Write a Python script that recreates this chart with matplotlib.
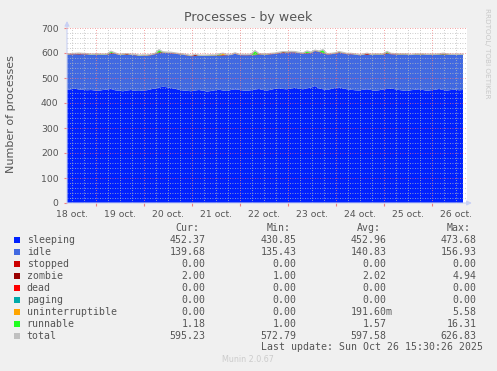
import matplotlib
matplotlib.use('Agg')
import matplotlib.pyplot as plt
import numpy as np
from matplotlib.patches import Rectangle

# data, one point every 2 hours starting 18 oct 09:30 (hours since 18 oct 00:00)
start_hour = 9.5
step_hours = 2.0

sleeping = [452, 455, 457, 454, 453, 451, 452, 450, 449, 452,
            454, 456, 451, 449, 447, 450, 452, 449, 448, 450,
            451, 455, 458, 462, 465, 463, 460, 457, 453, 450,
            449, 447, 450, 452, 449, 446, 448, 451, 453, 450,
            448, 452, 455, 453, 450, 449, 451, 454, 456, 452,
            450, 453, 457, 459, 456, 455, 458, 461, 457, 455,
            459, 462, 468, 458, 455, 452, 456, 460, 463, 458,
            455, 453, 451, 450, 453, 455, 452, 449, 451, 454,
            456, 458, 455, 452, 450, 448, 451, 453, 455, 452,
            449, 451, 453, 456, 452, 450, 452, 454, 451, 452]
idle = [141, 139, 138, 140, 142, 143, 141, 143, 144, 140,
        139, 141, 146, 143, 145, 142, 140, 142, 141, 139,
        138, 136, 137, 138, 136, 137, 139, 140, 142, 143,
        141, 140, 138, 136, 139, 142, 141, 137, 136, 140,
        143, 140, 142, 139, 141, 142, 140, 137, 138, 141,
        143, 142, 139, 140, 144, 146, 145, 141, 143, 142,
        139, 137, 140, 146, 144, 142, 139, 137, 138, 141,
        140, 142, 143, 141, 139, 138, 140, 144, 142, 139,
        141, 137, 139, 141, 143, 145, 141, 140, 138, 140,
        143, 141, 139, 137, 141, 142, 140, 138, 141, 140]
zombie = [2, 2, 2, 3, 2, 2, 1, 2, 2, 2,
          2, 3, 2, 2, 2, 4, 2, 2, 1, 2,
          2, 2, 2, 3, 2, 2, 2, 2, 1, 2,
          2, 2, 5, 2, 2, 2, 2, 3, 2, 2,
          2, 1, 2, 2, 2, 2, 3, 2, 2, 2,
          2, 2, 2, 2, 4, 2, 2, 2, 1, 2,
          2, 3, 2, 2, 2, 2, 2, 2, 3, 2,
          2, 2, 1, 2, 2, 4, 2, 2, 2, 2,
          3, 2, 2, 2, 2, 2, 1, 2, 2, 3,
          2, 2, 2, 2, 2, 3, 2, 2, 2, 2]
runnable = [1.2, 1.5, 1.3, 2.0, 1.1, 1.4, 1.6, 1.2, 1.3, 1.8,
            1.2, 7.0, 1.4, 1.1, 1.5, 1.3, 1.2, 2.1, 1.4, 1.3,
            1.1, 1.6, 1.3, 10.0, 1.5, 1.2, 1.4, 1.3, 1.7, 1.2,
            1.3, 1.5, 1.1, 1.4, 1.2, 1.6, 1.3, 1.2, 5.0, 1.4,
            1.2, 1.3, 1.5, 1.2, 1.4, 1.1, 1.3, 16.3, 1.5, 1.2,
            1.4, 1.3, 1.6, 1.2, 1.3, 1.5, 1.2, 1.4, 1.3, 1.1,
            8.0, 1.4, 1.2, 1.5, 12.0, 1.3, 1.2, 1.6, 1.4, 1.3,
            1.2, 1.5, 1.3, 1.1, 1.4, 1.2, 1.3, 1.5, 1.2, 1.4,
            6.0, 1.3, 1.2, 1.4, 1.6, 1.3, 1.2, 1.5, 1.3, 1.4,
            1.2, 1.3, 1.5, 1.2, 4.0, 1.4, 1.3, 1.2, 1.5, 1.18]
uninterruptible = [0, 0, 0, 0.5, 0, 0, 0, 0, 0, 0,
                   0, 0, 0, 0, 1.0, 0, 0, 0, 0, 0,
                   0, 0, 0, 0, 0, 0, 0.4, 0, 0, 0,
                   0, 0, 0, 0, 0, 0, 0, 0, 0, 5.58,
                   0, 0, 0, 0, 0, 0, 0, 0, 0, 0,
                   0, 0, 0, 0.6, 0, 0, 0, 0, 0, 0,
                   0, 0, 0, 0, 0, 0, 0, 0, 0, 0,
                   0, 0, 0, 0, 0, 0.8, 0, 0, 0, 0,
                   0, 0, 0, 0, 0, 0, 0, 0, 0, 0,
                   0, 0.5, 0, 0, 0, 0, 0, 0, 0, 0]
stopped = [0] * 100
dead = [0] * 100
paging = [0] * 100

names = ['sleeping', 'idle', 'stopped', 'zombie', 'dead', 'paging',
         'uninterruptible', 'runnable', 'total']
colors = ['#0022ff', '#4169e1', '#cc0000', '#990000', '#ff0000', '#00aaaa',
          '#ffa500', '#22ff22', '#c0c0c0']
cur = ['452.37', '139.68', '0.00', '2.00', '0.00', '0.00', '0.00', '1.18', '595.23']
vmin = ['430.85', '135.43', '0.00', '1.00', '0.00', '0.00', '0.00', '1.00', '572.79']
vavg = ['452.96', '140.83', '0.00', '2.02', '0.00', '0.00', '191.60m', '1.57', '597.58']
vmax = ['473.68', '156.93', '0.00', '4.94', '0.00', '0.00', '5.58', '16.31', '626.83']

day_labels = ['18 oct.', '19 oct.', '20 oct.', '21 oct.', '22 oct.',
              '23 oct.', '24 oct.', '25 oct.', '26 oct.']

W, H = 497, 371
txt = '#555555'

fig = plt.figure(figsize=(W / 100, H / 100), dpi=100)
fig.patch.set_facecolor('#f0f0f0')
ax = fig.add_axes([67 / W, (H - 203) / H, 400 / W, 175 / H])
ax.set_facecolor('white')

x = start_hour + step_hours * np.arange(len(sleeping))
series = [sleeping, idle, stopped, zombie, dead, paging, uninterruptible, runnable]
ax.stackplot(x, *series, colors=colors[:8], linewidth=0, zorder=2)
total = np.sum(np.array(series, dtype=float), axis=0)
ax.plot(x, total, color=colors[8], lw=1, zorder=3)

ax.set_xlim(9.5, 209.5)
ax.set_ylim(0, 700)

# grid, drawn over the data like rrdtool does
for h in np.arange(12, 210, 6):
    if h % 24:
        ax.axvline(h, color='#bbbbbb', lw=0.6, ls=(0, (1, 2)), zorder=4)
for v in np.arange(20, 701, 20):
    if v % 100:
        ax.axhline(v, color='#bbbbbb', lw=0.6, ls=(0, (1, 2)), zorder=4)
for h in np.arange(24, 210, 24):
    ax.axvline(h, color='#f08080', lw=0.6, ls=(0, (1, 2)), zorder=4)
for v in np.arange(100, 701, 100):
    ax.axhline(v, color='#f08080', lw=0.6, ls=(0, (1, 2)), zorder=4)

for s in ax.spines.values():
    s.set_visible(False)
ax.annotate('', xy=(0, 1.04), xytext=(0, 0), xycoords='axes fraction',
            arrowprops=dict(arrowstyle='-|>', color='#c8d0f4', lw=0.8,
                            mutation_scale=7, shrinkA=0, shrinkB=0),
            annotation_clip=False)
ax.annotate('', xy=(1.012, 0), xytext=(0, 0), xycoords='axes fraction',
            arrowprops=dict(arrowstyle='-|>', color='#c8d0f4', lw=0.8,
                            mutation_scale=7, shrinkA=0, shrinkB=0),
            annotation_clip=False)

ax.set_xticks(np.arange(24, 210, 24))
ax.set_xticklabels([])
ax.tick_params(axis='x', which='major', length=2, color='#f08080', direction='out')
ax.set_xticks(np.arange(12, 210, 24), minor=True)
ax.set_xticklabels(day_labels, minor=True)
ax.tick_params(axis='x', which='minor', length=0, pad=5, labelsize=6.7, labelcolor=txt)
ax.set_yticks(np.arange(0, 701, 100))
ax.tick_params(axis='y', length=2, color='#f08080', pad=4, labelsize=6.7, labelcolor=txt)

fig.text(248 / W, 1 - 18 / H, 'Processes - by week', ha='center', va='center',
         fontsize=9.1, color=txt)
fig.text(10.7 / W, 1 - 114.5 / H, 'Number of processes', rotation=90,
         ha='center', va='center', fontsize=8, color=txt)
fig.text(487 / W, 1 - 53 / H, 'RRDTOOL/ TOBI OETIKER', rotation=270,
         ha='center', va='center', fontsize=5.2, color='#c8c8c8')

# legend table
mono = dict(family='DejaVu Sans Mono', fontsize=7.1, color=txt, va='center')
cols = [205.7, 296.7, 386.7, 476.7]
for edge, head in zip(cols, ['Cur:', 'Min:', 'Avg:', 'Max:']):
    fig.text((edge - 6) / W, 1 - 227.7 / H, head, ha='right', **mono)


def put(val, edge, yy):
    if val.endswith('m'):
        fig.text((edge + 6) / W, yy, val, ha='right', **mono)
    else:
        fig.text(edge / W, yy, val, ha='right', **mono)


for k, name in enumerate(names):
    yp = 239.7 + 12 * k
    yy = 1 - yp / H
    fig.patches.append(Rectangle((14 / W, 1 - (yp + 3) / H), 6 / W, 6 / H,
                                 transform=fig.transFigure, facecolor=colors[k],
                                 edgecolor='none'))
    fig.text(26.7 / W, yy, name, ha='left', **mono)
    for edge, vals in zip(cols, [cur, vmin, vavg, vmax]):
        put(vals[k], edge, yy)

fig.text(482.7 / W, 1 - 346.7 / H, 'Last update: Sun Oct 26 15:30:26 2025',
         ha='right', **mono)
fig.text(247.5 / W, 1 - 360 / H, 'Munin 2.0.67', ha='center', va='center',
         fontsize=5.8, color='#cccccc')

fig.savefig('out.png', dpi=100, facecolor=fig.get_facecolor())
